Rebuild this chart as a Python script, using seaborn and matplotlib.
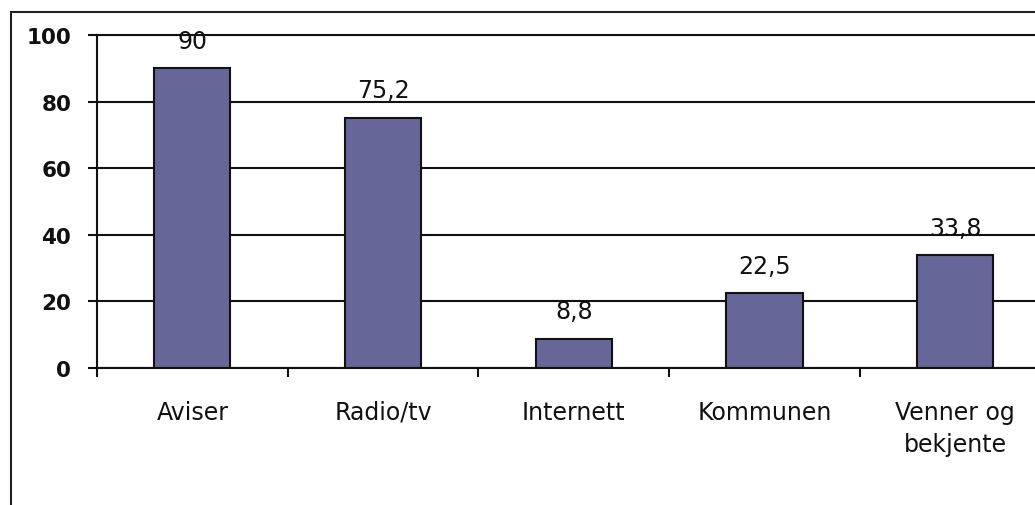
import numpy as np
import matplotlib
matplotlib.use("Agg")
import matplotlib.pyplot as plt
from matplotlib.patches import Rectangle
import seaborn as sns

# ----------------------------------------
# Data
# ----------------------------------------
categories = ["Aviser", "Radio/tv", "Internett", "Kommunen", "Venner og\nbekjente"]
values = [90, 75.2, 8.8, 22.5, 33.8]
value_labels = [f"{v:g}".replace(".", ",") for v in values]
y_ticks = [0, 20, 40, 60, 80, 100]

# ----------------------------------------
# Style
# ----------------------------------------
sns.set_theme(style="white")
plt.rcParams["font.family"] = ["DejaVu Sans"]
plt.rcParams["text.color"] = "#111111"

W, H = 1035, 506
fig = plt.figure(figsize=(W / 100, H / 100), dpi=100)
fig.patch.set_facecolor("white")

# plot area runs past the right edge of the picture
ax = fig.add_axes([97 / W, 137 / H, 953.5 / W, 333 / H])

sns.barplot(
    x=categories,
    y=values,
    color="#666699",
    width=0.4,
    edgecolor="#111111",
    linewidth=1.5,
    saturation=1,
    ax=ax
)

ax.bar_label(
    ax.containers[0],
    labels=value_labels,
    padding=11,
    fontsize=17,
    color="#111111"
)

ax.set_ylim(0, 100)
ax.set_xlim(-0.5, len(categories) - 0.5)
ax.set_yticks(y_ticks)
ax.set_xlabel("")
ax.set_ylabel("")

ax.yaxis.grid(True, color="#111111", linewidth=1.5)
ax.set_axisbelow(True)

ax.spines["right"].set_visible(False)
for side in ["left", "bottom", "top"]:
    ax.spines[side].set_color("#111111")
    ax.spines[side].set_linewidth(1.5)

ax.tick_params(
    axis="y",
    direction="out",
    length=6.5,
    width=1.5,
    color="#111111",
    labelcolor="#111111",
    pad=12,
    labelsize=15.5,
    left=True
)
for lab in ax.get_yticklabels():
    lab.set_fontweight("bold")

# category separators as minor ticks
ax.set_xticks(np.arange(len(categories) + 1) - 0.5, minor=True)
ax.tick_params(axis="x", which="minor", direction="out", length=6.5,
               width=1.5, color="#111111", bottom=True)
ax.tick_params(axis="x", which="major", length=0, pad=23, labelsize=17,
               labelcolor="#111111")
for lab in ax.get_xticklabels():
    lab.set_linespacing(1.45)

# outer chart frame
fig.add_artist(Rectangle(
    (10.5 / W, -0.1), 2, (H - 13) / H + 0.1,
    transform=fig.transFigure,
    fill=False,
    edgecolor="#222222",
    linewidth=1.5
))

plt.savefig("out.png", dpi=100)
plt.close()
